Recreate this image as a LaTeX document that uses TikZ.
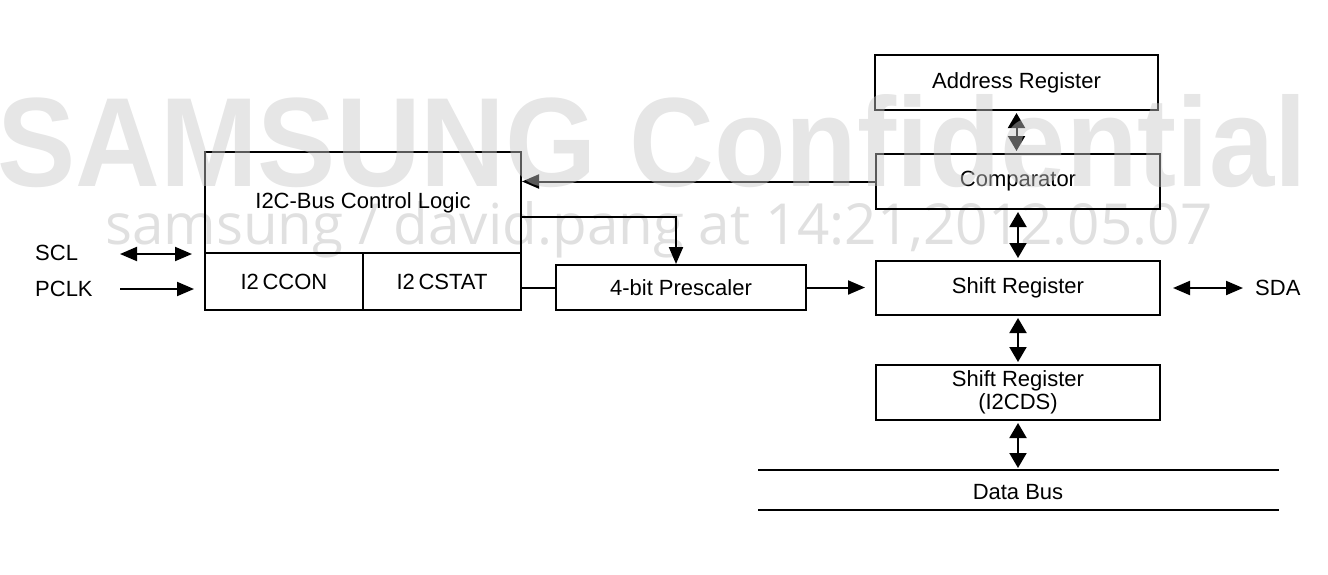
\documentclass[tikz,border=0pt]{standalone}
\usepackage{fontspec}
\setmainfont{Liberation Sans}
\newfontfamily\wmfont{Liberation Sans}
\newfontfamily\wmsmall{Open Sans}
\usetikzlibrary{arrows.meta}
\definecolor{wmgray}{gray}{0.78}
\definecolor{wmlight}{gray}{0.88}
\begin{document}
\begin{tikzpicture}[x=1pt,y=-1pt,
  every node/.style={font=\fontsize{22}{25}\selectfont},
  blk/.style={draw, line width=2pt, inner sep=0pt, align=center},
  lbl/.style={inner sep=0pt},
  conn/.style={line width=2pt},
  arr/.style={conn, -{Triangle[length=17pt,width=14pt]}},
  darr/.style={conn, {Triangle[length=17pt,width=14pt]}-{Triangle[length=17pt,width=14pt]}},
  varr/.style={conn, {Triangle[length=15pt,width=17pt]}-{Triangle[length=15pt,width=17pt]}, shorten <=2pt, shorten >=2pt}]
\useasboundingbox (0,0) rectangle (1328,574);
% faint background watermark
\node[anchor=base west, inner sep=0pt, text=wmlight] (wm2) at (105,244)
  {\resizebox{1107pt}{!}{\wmsmall samsung / david.pang at 14:21,2012.05.07}};
% blocks
\node[blk, minimum width=316, minimum height=101] (ctrl) at (363,202.5) {\raisebox{-3pt}{I2C-Bus Control Logic}};
\node[blk, minimum width=158, minimum height=57] (con) at (284,281.5) {I2\,CCON};
\node[blk, minimum width=158, minimum height=57] (stat) at (442,281.5) {I2\,CSTAT};
\node[blk, minimum width=250, minimum height=45] (pre) at (681,287.5) {4-bit Prescaler};
\node[blk, minimum width=283, minimum height=55] (addr) at (1016.5,82.5) {Address Register};
\node[blk, minimum width=284, minimum height=55] (comp) at (1018,181.5) {Comparator};
\node[blk, minimum width=284, minimum height=54] (shift) at (1018,288) {Shift Register};
\node[blk, minimum width=284, minimum height=55] (ds) at (1018,392.5) {Shift Register\\[-2pt](I2CDS)};
% data bus
\coordinate (busL) at (758,470);
\coordinate (busR) at (1279,470);
\draw[conn] (busL) -- (busR);
\draw[conn] (758,510) -- (1279,510);
\node[lbl] (dbus) at (1018,492) {Data Bus};
\coordinate (bustop) at (1018,470);
% labels
\node[lbl, anchor=west] (scl) at (35,253) {SCL};
\node[lbl, anchor=west] (pclk) at (35,289) {PCLK};
\node[lbl, anchor=west] (sda) at (1255,288) {SDA};
% connectors
\draw[darr] ([xshift=-84]ctrl.south west) -- ([xshift=-12]ctrl.south west);
\draw[arr] ([xshift=-84]ctrl.south west |- pclk.east) -- ([xshift=-10]ctrl.south west |- pclk.east);
\draw[arr] (comp.west) -- (comp.west -| ctrl.east);
\coordinate (c1) at (521,217);
\draw[arr] (c1) -| ([xshift=-5]pre.north);
\draw[conn] (pre.west) -- (pre.west -| stat.east);
\draw[arr, shorten >=10pt] (pre.east) -- (pre.east -| shift.west);
\draw[darr, shorten <=12pt, shorten >=12pt] (shift.east) -- (sda.west);
\draw[varr] (addr.south) -- (addr.south |- comp.north);
\draw[varr] (comp.south) -- (shift.north);
\draw[varr] (shift.south) -- (ds.north);
\draw[varr] (ds.south) -- (bustop);
% overlay watermark
\node[anchor=base west, inner sep=0pt, text=wmgray, opacity=0.45] (wm1) at (-3,186)
  {\resizebox{1310pt}{92pt}{\wmfont\bfseries SAMSUNG Confidential}};
\end{tikzpicture}
\end{document}
